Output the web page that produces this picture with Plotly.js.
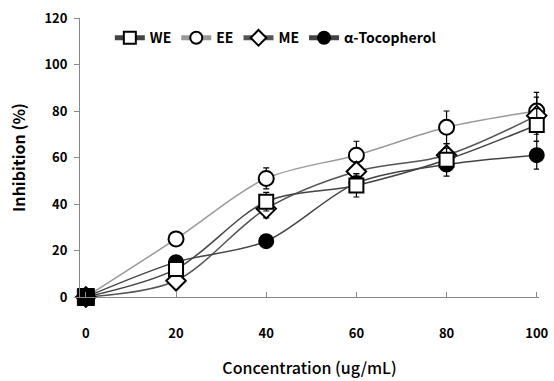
<!DOCTYPE html>
<html><head><meta charset="utf-8">
<script src="https://cdn.plot.ly/plotly-3.0.1.min.js"></script>
<style>html,body{margin:0;padding:0;background:#fff}#c{width:554px;height:381px}</style>
</head><body><div id="c"></div>
<script>
const conc = [0, 20, 40, 60, 80, 100];
const xTicks = [0, 20, 40, 60, 80, 100];
const yTicks = [0, 20, 40, 60, 80, 100, 120];
const names = ['WE', 'EE', 'ME', 'α-Tocopherol'];
const WE  = [0, 12, 41, 48, 59, 74];
const EE  = [0, 25, 51, 61, 73, 80];
const ME  = [0, 7, 38, 54, 61, 78];
const TOC = [0, 15, 24, 49, 57, 61];
const WE_err  = [0, 0, 4, 5, 5, 7];
const EE_err  = [0, 0, 4.5, 6, 7, 8];
const ME_err  = [0, 0, 4, 4, 5, 8];
const TOC_err = [0, 0, 0, 4, 5, 6];

function tr(name, y, err, sym, lineColor, fill, rank, size) {
  return {
    x: conc, y: y, name: name, type: 'scatter', mode: 'lines+markers',
    line: {shape: 'spline', smoothing: 0.9, color: lineColor, width: 1.5},
    marker: {symbol: sym, size: size, color: fill, line: {color: '#000', width: 2}},
    error_y: {type: 'data', array: err, visible: true, color: '#000', thickness: 1.2, width: 3},
    legendrank: rank, cliponaxis: false
  };
}
const data = [
  tr(names[1], EE, EE_err, 'circle', '#999', '#fff', 2, 15),
  tr(names[2], ME, ME_err, 'diamond', '#555', '#fff', 3, 15),
  tr(names[3], TOC, TOC_err, 'circle', '#444', '#000', 4, 14),
  tr(names[0], WE, WE_err, 'square', '#444', '#fff', 1, 14),
  {x: [conc[0]], y: [WE[0]], type: 'scatter', mode: 'markers', showlegend: false,
   marker: {symbol: 'square', size: 17, color: '#000', line: {color: '#000', width: 1}}, cliponaxis: false}
];
const font = {family: '"Noto Sans CJK KR", "Noto Sans", sans-serif', color: '#000'};
const layout = {
  width: 554, height: 381,
  margin: {l: 80, r: 15, t: 18, b: 84},
  paper_bgcolor: '#fff', plot_bgcolor: '#fff',
  showlegend: true,
  legend: {orientation: 'h', x: 0.065, y: 0.985, yanchor: 'top', xanchor: 'left',
    font: Object.assign({}, font, {size: 14, weight: 'bold'}), itemwidth: 30, itemsizing: 'constant',
    traceorder: 'normal', bgcolor: 'rgba(0,0,0,0)', tracegroupgap: 0},
  xaxis: {range: [-1.3, 100.5], tickvals: xTicks, ticktext: xTicks.map(String),
    showgrid: false, zeroline: false, showline: true, linecolor: '#888', linewidth: 1,
    ticks: 'inside', ticklen: 5, tickcolor: '#888', ticklabelstandoff: 24,
    tickfont: Object.assign({}, font, {size: 13, weight: 'bold'}),
    title: {text: 'Concentration (ug/mL)', font: Object.assign({}, font, {size: 16, weight: 500}), standoff: 22}},
  yaxis: {range: [0, 120], tickvals: yTicks, ticktext: yTicks.map(String),
    showgrid: false, zeroline: false, showline: true, linecolor: '#888', linewidth: 1,
    ticks: 'outside', ticklen: 5, tickcolor: '#888', ticklabelstandoff: 4,
    tickfont: Object.assign({}, font, {size: 13, weight: 'bold'}),
    title: {text: 'Inhibition (%)', font: Object.assign({}, font, {size: 16, weight: 'bold'}), standoff: 14}}
};
Plotly.newPlot('c', data, layout, {displayModeBar: false, staticPlot: true});
</script></body></html>
